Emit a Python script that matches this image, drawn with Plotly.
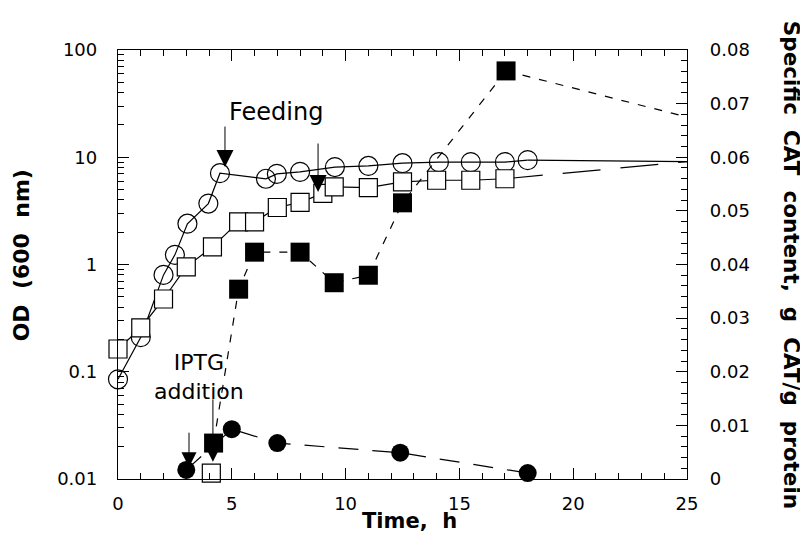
import numpy as np
import plotly.graph_objects as go

# ---- data ----
# OD (600 nm), open circles
t_od_circ = [0.0, 1.0, 2.0, 2.5, 3.05, 3.97, 4.48, 6.5, 6.98, 8.0, 9.53, 11.0, 12.5, 14.1, 15.5, 17.0, 18.0]
od_circ   = [0.085, 0.21, 0.80, 1.23, 2.4, 3.7, 7.1, 6.3, 7.0, 7.3, 8.1, 8.3, 8.8, 9.0, 9.0, 9.0, 9.4]
t_od_circ_end = [18.0, 25.0]
od_circ_end   = [9.4, 9.1]

# OD (600 nm), open squares
t_od_sq = [0.0, 1.0, 2.0, 3.0, 4.15, 5.3, 6.0, 7.0, 8.0, 9.0, 9.5, 11.0, 12.5, 14.0, 15.5, 17.0]
od_sq   = [0.163, 0.256, 0.477, 0.95, 1.46, 2.5, 2.5, 3.4, 3.8, 4.6, 5.3, 5.2, 5.9, 6.1, 6.1, 6.3]
t_od_sq_end = [17.0, 25.0]
od_sq_end   = [6.3, 9.1]

# Specific CAT content (g CAT / g protein), filled squares
t_cat_sq = [4.2, 5.3, 6.0, 8.0, 9.5, 11.0, 12.5, 17.05]
cat_sq   = [0.0067, 0.0354, 0.0423, 0.0423, 0.0366, 0.038, 0.0515, 0.0761]
t_cat_sq_end = [17.05, 25.0]
cat_sq_end   = [0.0761, 0.0675]

# Specific CAT content, filled circles
t_cat_circ = [3.0, 5.0, 7.0, 12.4, 18.0]
cat_circ   = [0.0017, 0.0093, 0.0067, 0.0049, 0.0011]

# Specific CAT content, open square (control)
t_cat_open = [4.1]
cat_open   = [0.0011]

# axis ticks
x_ticks = [0, 5, 10, 15, 20, 25]
y_ticks = [0.01, 0.1, 1, 10, 100]
y_ticktext = ["0.01", "0.1", "1", "10", "100"]
y2_ticks = [0, 0.01, 0.02, 0.03, 0.04, 0.05, 0.06, 0.07, 0.08]
y2_ticktext = ["0", "0.01", "0.02", "0.03", "0.04", "0.05", "0.06", "0.07", "0.08"]

# annotation anchors (data coords)
feed_t = [4.70, 8.79]
feed_od = [8.1, 4.74]
iptg_t = [3.12, 4.17]
iptg_cat = [0.0022, 0.0032]

FONT = "DejaVu Sans, Liberation Sans, Arial, sans-serif"
BLK = "black"

fig = go.Figure()

# OD lines
fig.add_trace(go.Scatter(x=t_od_circ_end, y=od_circ_end, mode="lines",
                         line=dict(color=BLK, width=1.2), cliponaxis=False, hoverinfo="skip"))
fig.add_trace(go.Scatter(x=t_od_sq_end, y=od_sq_end, mode="lines",
                         line=dict(color=BLK, width=1.2, dash="38px,20px"), cliponaxis=False, hoverinfo="skip"))
fig.add_trace(go.Scatter(x=t_od_circ, y=od_circ, mode="lines+markers",
                         line=dict(color=BLK, width=1.2),
                         marker=dict(symbol="circle-open", size=19, color=BLK, line=dict(width=1.2, color=BLK)),
                         cliponaxis=False))
fig.add_trace(go.Scatter(x=t_od_sq, y=od_sq, mode="lines+markers",
                         line=dict(color=BLK, width=1.2),
                         marker=dict(symbol="square", size=18, color="white", line=dict(width=1.2, color=BLK)),
                         cliponaxis=False))

# CAT content on right axis
fig.add_trace(go.Scatter(x=t_cat_sq_end, y=cat_sq_end, yaxis="y2", mode="lines",
                         line=dict(color=BLK, width=1.2, dash="8px,9px"), cliponaxis=False, hoverinfo="skip"))
fig.add_trace(go.Scatter(x=t_cat_sq, y=cat_sq, yaxis="y2", mode="lines+markers",
                         line=dict(color=BLK, width=1.2, dash="8px,9px"),
                         marker=dict(symbol="square", size=19, color=BLK),
                         cliponaxis=False))
fig.add_trace(go.Scatter(x=t_cat_circ, y=cat_circ, yaxis="y2", mode="lines+markers",
                         line=dict(color=BLK, width=1.2, dash="20px,14px"),
                         marker=dict(symbol="circle", size=18, color=BLK),
                         cliponaxis=False))
fig.add_trace(go.Scatter(x=t_cat_open, y=cat_open, yaxis="y2", mode="markers",
                         marker=dict(symbol="square", size=18, color="white", line=dict(width=1.2, color=BLK)),
                         cliponaxis=False))

# minor tick positions on log axis
y_minor = [m * 10.0 ** d for d in range(-2, 2) for m in range(2, 10)]

tickfont = dict(family=FONT, size=18, color=BLK)
fig.update_layout(
    width=800, height=534,
    margin=dict(l=110, r=121, t=42, b=63),
    paper_bgcolor="white", plot_bgcolor="white",
    showlegend=False,
    font=dict(family=FONT, color=BLK),
    xaxis=dict(range=[0, 25], tickvals=x_ticks, ticks="inside", ticklen=11, tickwidth=1.2,
               tickcolor=BLK, showline=True, linecolor=BLK, linewidth=1.3, mirror="ticks",
               showgrid=False, zeroline=False, tickfont=tickfont, ticklabelstandoff=8,
               minor=dict(dtick=1, ticks="inside", ticklen=6, tickwidth=1, tickcolor=BLK, showgrid=False)),
    yaxis=dict(type="log", range=[-2, 2], tickvals=y_ticks, ticktext=y_ticktext, ticks="inside",
               ticklen=11, tickwidth=1.2, tickcolor=BLK, showline=True, linecolor=BLK, linewidth=1.3,
               showgrid=False, zeroline=False, tickfont=tickfont, ticklabelstandoff=16,
               minor=dict(tickvals=y_minor, ticks="inside", ticklen=6, tickwidth=1, tickcolor=BLK, showgrid=False)),
    yaxis2=dict(overlaying="y", side="right", range=[0, 0.08], tickvals=y2_ticks, ticktext=y2_ticktext,
                ticks="inside", ticklen=11, tickwidth=1.2, tickcolor=BLK, showline=True, linecolor=BLK,
                linewidth=1.3, showgrid=False, zeroline=False, tickfont=tickfont, ticklabelstandoff=18,
                minor=dict(dtick=0.002, ticks="inside", ticklen=6, tickwidth=1, tickcolor=BLK, showgrid=False)),
)

ann = []
# axis titles
title_font = dict(family=FONT, size=22, color=BLK)
ann.append(dict(text="<b>OD  (600  nm)</b>", xref="paper", yref="paper", x=-0.169, y=0.521,
                textangle=-90, showarrow=False, font=title_font, xanchor="center", yanchor="middle"))
ann.append(dict(text="<b>Specific  CAT  content,  g  CAT/g  protein</b>", xref="paper", yref="paper",
                x=1.184, y=0.5, textangle=90, showarrow=False, font=dict(family=FONT, size=21.5, color=BLK),
                xanchor="center", yanchor="middle"))
ann.append(dict(text="<b>Time,  h</b>", xref="paper", yref="paper", x=0.512, y=-0.098,
                showarrow=False, font=dict(family=FONT, size=21, color=BLK),
                xanchor="center", yanchor="middle"))

# Feeding
ann.append(dict(text="Feeding", xref="x", yref="y", x=6.94, y=np.log10(26.4),
                showarrow=False, font=dict(family=FONT, size=24, color=BLK),
                xanchor="center", yanchor="middle"))
tails_feed = [-42, -50]
for tx, ty, ay in zip(feed_t, feed_od, tails_feed):
    ann.append(dict(text="", xref="x", yref="y", x=tx, y=np.log10(ty), ax=0, ay=ay,
                    showarrow=True, arrowhead=2, arrowsize=3.4, arrowwidth=1, arrowcolor=BLK))

# IPTG addition
ann.append(dict(text="IPTG<br>addition", xref="x", yref="y2", x=3.56, y=0.019,
                showarrow=False, font=dict(family=FONT, size=22, color=BLK),
                xanchor="center", yanchor="middle", align="center"))
tails_iptg = [-36, -64]
for tx, ty, ay in zip(iptg_t, iptg_cat, tails_iptg):
    ann.append(dict(text="", xref="x", yref="y2", x=tx, y=ty, ax=0, ay=ay,
                    showarrow=True, arrowhead=2, arrowsize=3.0, arrowwidth=1, arrowcolor=BLK))

fig.update_layout(annotations=ann)
fig.write_html("out.html")
